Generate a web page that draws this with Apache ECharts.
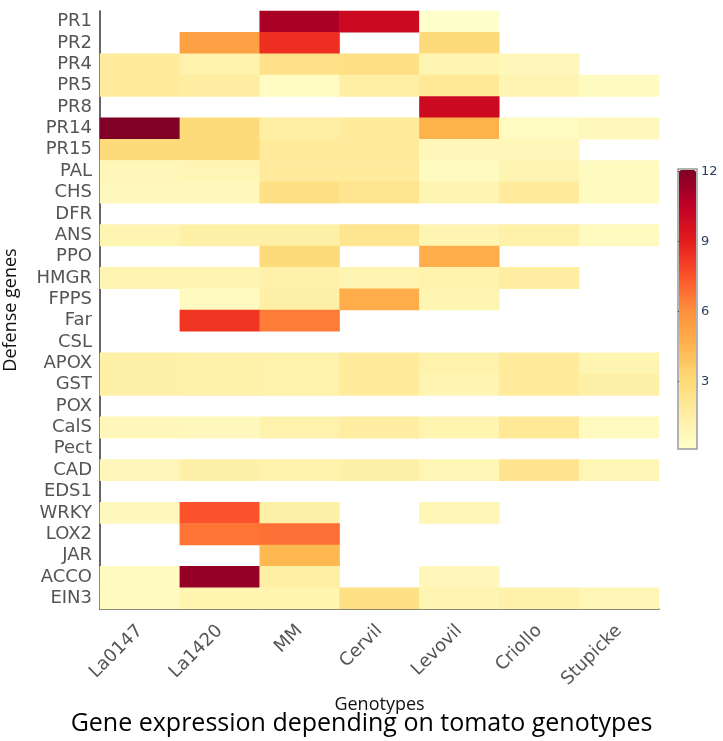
<!DOCTYPE html>
<html>
<head>
<meta charset="utf-8">
<script src="https://cdn.jsdelivr.net/npm/echarts@6/dist/echarts.min.js"></script>
<style>html,body{margin:0;padding:0;background:#fff;}#c{width:723px;height:741px;}</style>
</head>
<body>
<div id="c"></div>
<script>
const genotypes = ['La0147','La1420','MM','Cervil','Levovil','Criollo','Stupicke'];
const genes = ['PR1','PR2','PR4','PR5','PR8','PR14','PR15','PAL','CHS','DFR','ANS','PPO','HMGR','FPPS','Far','CSL','APOX','GST','POX','CalS','Pect','CAD','EDS1','WRKY','LOX2','JAR','ACCO','EIN3'];
// values per gene, one per genotype (null = no value)
const PR1  = [null, null, 11.0, 10.0, 0.15, null, null];
const PR2  = [null, 5.3, 8.5, null, 3.0, null, null];
const PR4  = [1.8, 1.2, 2.5, 2.6, 1.0, 0.8, null];
const PR5  = [1.8, 1.6, 0.5, 1.5, 2.0, 1.0, 0.6];
const PR8  = [null, null, null, null, 10.0, null, null];
const PR14 = [12.05, 3.0, 1.5, 1.8, 4.6, 0.5, 0.7];
const PR15 = [3.0, 3.0, 1.8, 1.8, 0.8, 0.8, null];
const PAL  = [0.8, 0.9, 1.8, 1.8, 0.6, 1.0, 0.6];
const CHS  = [0.7, 0.7, 2.6, 2.2, 1.0, 1.8, 0.6];
const DFR  = [null, null, null, null, null, null, null];
const ANS  = [1.0, 1.4, 1.4, 2.2, 1.0, 1.3, 0.6];
const PPO  = [null, null, 3.0, null, 4.8, null, null];
const HMGR = [1.0, 1.0, 1.3, 1.0, 1.2, 1.6, null];
const FPPS = [null, 0.6, 1.4, 4.8, 1.0, null, null];
const Far  = [null, 8.3, 6.5, null, null, null, null];
const CSL  = [null, null, null, null, null, null, null];
const APOX = [1.4, 1.3, 1.2, 1.8, 1.2, 1.8, 1.0];
const GST  = [1.4, 1.3, 1.2, 1.8, 1.0, 1.8, 1.4];
const POX  = [null, null, null, null, null, null, null];
const CalS = [0.8, 0.7, 1.2, 1.6, 1.1, 2.0, 0.6];
const Pect = [null, null, null, null, null, null, null];
const CAD  = [0.8, 1.4, 1.2, 1.4, 0.9, 2.3, 0.9];
const EDS1 = [null, null, null, null, null, null, null];
const WRKY = [0.7, 7.5, 1.4, null, 0.9, null, null];
const LOX2 = [null, 6.7, 6.8, null, null, null, null];
const JAR  = [null, null, 4.4, null, null, null, null];
const ACCO = [0.6, 11.5, 1.5, null, 0.8, null, null];
const EIN3 = [0.6, 1.1, 1.1, 2.6, 1.0, 1.3, 0.9];
const colorbarTicks = [3, 6, 9, 12];

const rows = [PR1,PR2,PR4,PR5,PR8,PR14,PR15,PAL,CHS,DFR,ANS,PPO,HMGR,FPPS,Far,CSL,APOX,GST,POX,CalS,Pect,CAD,EDS1,WRKY,LOX2,JAR,ACCO,EIN3];

const data = [];
let vmin = Infinity, vmax = -Infinity;
rows.forEach((r, gi) => r.forEach((v, ci) => {
  if (v !== null) { data.push([ci, gi, v]); vmin = Math.min(vmin, v); vmax = Math.max(vmax, v); }
}));

const chart = echarts.init(document.getElementById('c'), null, {renderer: 'canvas'});
const labelFont = 'DejaVu Sans';
chart.setOption({
  animation: false,
  backgroundColor: '#fff',
  title: {
    text: 'Gene expression depending on tomato genotypes',
    left: 'center', top: 706,
    textStyle: {fontFamily: 'Open Sans', fontSize: 25, fontWeight: 'normal', color: '#000'}
  },
  grid: [
    {left: 100, top: 11, width: 559, height: 598, outerBoundsMode: 'none', containLabel: false},
    {left: 678, top: 169, width: 19, height: 280, show: true, borderColor: '#999', borderWidth: 1.5, backgroundColor: 'transparent', outerBoundsMode: 'none', containLabel: false}
  ],
  xAxis: [
    {
      type: 'category', data: genotypes, gridIndex: 0,
      name: 'Genotypes', nameLocation: 'middle', nameGap: 80,
      nameTextStyle: {fontFamily: 'Open Sans', fontSize: 18, color: '#111'},
      axisLine: {lineStyle: {color: '#333', width: 1.5}},
      axisTick: {alignWithLabel: true, length: 4, lineStyle: {color: '#555'}},
      axisLabel: {rotate: 45, fontFamily: labelFont, fontSize: 18, color: '#555', margin: 19},
      splitLine: {show: false}
    },
    {type: 'value', gridIndex: 1, show: false, min: 0, max: 1}
  ],
  yAxis: [
    {
      type: 'category', data: genes, inverse: true, gridIndex: 0,
      name: 'Defense genes', nameLocation: 'middle', nameGap: 80, nameRotate: 90,
      nameTextStyle: {fontFamily: 'Open Sans', fontSize: 18, color: '#111'},
      axisLine: {lineStyle: {color: '#333', width: 1.5}},
      axisTick: {alignWithLabel: true, length: 4, lineStyle: {color: '#555'}},
      axisLabel: {fontFamily: labelFont, fontSize: 18, color: '#555', margin: 8, interval: 0},
      splitLine: {show: false}
    },
    {
      type: 'value', gridIndex: 1, position: 'right', min: 0.1, max: 12.1,
      axisLine: {show: false},
      axisTick: {show: true, length: 3, customValues: colorbarTicks, lineStyle: {color: '#444'}},
      axisLabel: {customValues: colorbarTicks, fontFamily: labelFont, fontSize: 13, color: '#2a3f5f', margin: 4},
      splitLine: {show: false}
    }
  ],
  visualMap: {
    type: 'continuous', min: vmin, max: vmax, calculable: false,
    left: 679, top: 170, itemWidth: 17, itemHeight: 278, padding: 0,
    text: null, hoverLink: false, seriesIndex: 0,
    inRange: {color: ['rgb(255,255,204)','rgb(255,237,160)','rgb(254,217,118)','rgb(254,178,76)','rgb(253,141,60)','rgb(252,78,42)','rgb(227,26,28)','rgb(189,0,38)','rgb(128,0,38)']}
  },
  series: [{
    type: 'heatmap', xAxisIndex: 0, yAxisIndex: 0, data: data,
    itemStyle: {borderWidth: 0},
    emphasis: {disabled: true}
  }]
});
</script>
</body>
</html>
